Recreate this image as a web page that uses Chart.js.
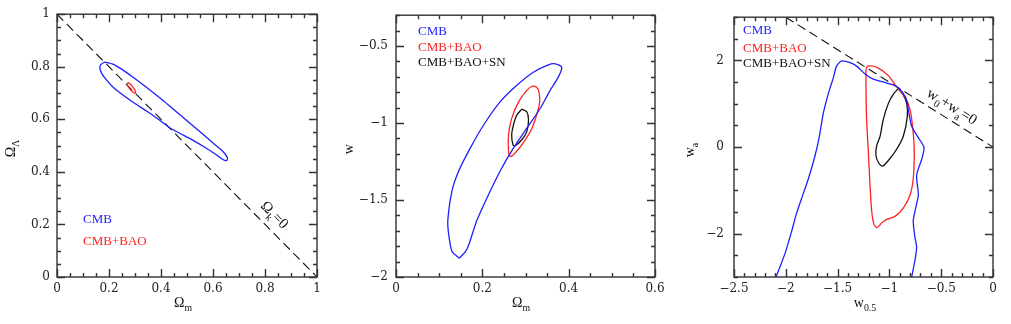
<!DOCTYPE html>
<html>
<head>
<meta charset="utf-8">
<script src="https://cdn.jsdelivr.net/npm/chart.js@4.4.0/dist/chart.umd.min.js"></script>
<style>
html, body { margin: 0; padding: 0; background: #fff; }
#wrap { position: relative; width: 1011px; height: 324px; }
#wrap canvas { position: absolute; top: 0; }
</style>
</head>
<body>
<div id="wrap">
  <canvas id="c1" width="335" height="324" style="left:0"></canvas>
  <canvas id="c2" width="330" height="324" style="left:340px"></canvas>
  <canvas id="c3" width="341" height="324" style="left:670px"></canvas>
</div>
<script>
// ---- panel 1: Omega_m vs Omega_Lambda ----
var p1TicksX = [0, 0.2, 0.4, 0.6, 0.8, 1];
var p1TicksY = [0, 0.2, 0.4, 0.6, 0.8, 1];
var p1CmbX = [0.184, 0.168, 0.165, 0.172, 0.19, 0.22, 0.26, 0.30, 0.35, 0.40, 0.435, 0.47, 0.52, 0.57, 0.61, 0.638, 0.652, 0.656, 0.645, 0.63, 0.60, 0.55, 0.50, 0.45, 0.40, 0.34, 0.29, 0.25, 0.215, 0.184];
var p1CmbY = [0.818, 0.808, 0.795, 0.775, 0.75, 0.718, 0.688, 0.66, 0.628, 0.593, 0.567, 0.548, 0.522, 0.493, 0.467, 0.447, 0.443, 0.452, 0.47, 0.485, 0.51, 0.553, 0.595, 0.636, 0.678, 0.725, 0.762, 0.79, 0.81, 0.818];
var p1BaoX = [0.274, 0.287, 0.299, 0.302, 0.293, 0.280, 0.270, 0.274];
var p1BaoY = [0.740, 0.729, 0.712, 0.700, 0.702, 0.716, 0.731, 0.740];
var p1FlatX = [0, 1];
var p1FlatY = [1, 0];

// ---- panel 2: Omega_m vs w ----
var p2TicksX = [0, 0.2, 0.4, 0.6];
var p2TicksY = [-2, -1.5, -1, -0.5];
var p2CmbX = [0.1465, 0.1296, 0.122, 0.120, 0.1296, 0.145, 0.172, 0.203, 0.241, 0.280, 0.318, 0.353, 0.369, 0.384, 0.376, 0.357, 0.334, 0.303, 0.272, 0.241, 0.211, 0.187, 0.168, 0.160, 0.1465];
var p2CmbY = [-1.878, -1.833, -1.721, -1.635, -1.442, -1.313, -1.163, -1.013, -0.863, -0.755, -0.670, -0.622, -0.616, -0.637, -0.702, -0.788, -0.906, -1.034, -1.163, -1.313, -1.485, -1.635, -1.796, -1.839, -1.878];
var p2BaoX = [0.322, 0.330, 0.333, 0.330, 0.315, 0.2915, 0.272, 0.2645, 0.2607, 0.2607, 0.268, 0.284, 0.303, 0.314, 0.322];
var p2BaoY = [-0.760, -0.785, -0.850, -0.906, -1.034, -1.142, -1.206, -1.217, -1.185, -1.077, -0.970, -0.863, -0.788, -0.763, -0.760];
var p2SnX = [0.2915, 0.303, 0.307, 0.303, 0.2915, 0.276, 0.271, 0.268, 0.272, 0.280, 0.2915];
var p2SnY = [-0.910, -0.927, -0.981, -1.056, -1.109, -1.148, -1.142, -1.077, -1.013, -0.948, -0.910];

// ---- panel 3: w_0.5 vs w_a ----
var p3TicksX = [-2.5, -2, -1.5, -1, -0.5, 0];
var p3TicksY = [-2, 0, 2];
var p3CmbX = [-2.095, -2.008, -1.943, -1.90, -1.847, -1.782, -1.718, -1.676, -1.638, -1.59, -1.54, -1.51, -1.46, -1.38, -1.316, -1.236, -1.155, -1.026, -0.93, -0.87, -0.833, -0.817, -0.785, -0.721, -0.666, -0.688, -0.737, -0.721, -0.753, -0.77, -0.753, -0.737, -0.753, -0.785];
var p3CmbY = [-3.0, -2.46, -1.94, -1.56, -1.18, -0.73, -0.20, 0.25, 0.78, 1.23, 1.61, 1.87, 1.99, 1.95, 1.87, 1.69, 1.57, 1.48, 1.40, 1.25, 1.08, 0.86, 0.48, 0.22, -0.01, -0.28, -0.65, -1.10, -1.48, -1.71, -2.09, -2.31, -2.61, -3.0];
var p3BaoX = [-1.226, -1.21, -1.12, -1.01, -0.93, -0.85, -0.80, -0.77, -0.76, -0.77, -0.80, -0.866, -0.946, -1.026, -1.074, -1.12, -1.149, -1.171, -1.187, -1.203, -1.22, -1.226, -1.226];
var p3BaoY = [1.80, 1.87, 1.84, 1.65, 1.39, 1.16, 0.86, 0.33, -0.12, -0.73, -1.10, -1.41, -1.60, -1.67, -1.75, -1.86, -1.78, -1.48, -0.88, -0.12, 0.63, 1.39, 1.80];
var p3SnX = [-0.914, -0.87, -0.833, -0.827, -0.866, -0.93, -1.01, -1.065, -1.097, -1.13, -1.123, -1.09, -1.06, -1.01, -0.96, -0.914];
var p3SnY = [1.35, 1.22, 1.01, 0.71, 0.25, -0.05, -0.31, -0.44, -0.39, -0.20, 0.03, 0.25, 0.63, 1.01, 1.23, 1.35];
var p3FlatX = [-2, 0];
var p3FlatY = [3, 0];

var BLUE = '#1e1eff', RED = '#ff2020', BLACK = '#111';
var SERIF = '"Liberation Serif", serif';

function pts(xs, ys) {
    return xs.map(function(x, i) { return { x: x, y: ys[i] }; });
}

function fmt(v) {
    return String(v).replace('-', '\u2212');
}

// text with subscripts, parts = [[text, isSub], ...], centred on x, baseline y
function drawRich(ctx, parts, x, y, size) {
    var w = 0;
    parts.forEach(function(p) {
        ctx.font = (p[1] ? size * 0.7 : size) + 'px ' + SERIF;
        w += ctx.measureText(p[0]).width;
    });
    var cx = x - w / 2;
    ctx.textAlign = 'left';
    ctx.textBaseline = 'alphabetic';
    parts.forEach(function(p) {
        ctx.font = (p[1] ? size * 0.7 : size) + 'px ' + SERIF;
        ctx.fillText(p[0], cx, y + (p[1] ? size * 0.3 : 0));
        cx += ctx.measureText(p[0]).width;
    });
}

function isMajor(v, list) {
    return list.some(function(m) { return Math.abs(m - v) < 1e-6; });
}

function framePlugin(cfg) {
    return {
        id: 'frame',
        afterDraw: function(chart) {
            var ctx = chart.ctx, a = chart.chartArea;
            var xs = chart.scales.x, ys = chart.scales.y;
            ctx.save();
            ctx.strokeStyle = '#333';
            ctx.lineWidth = 1.4;
            ctx.strokeRect(a.left, a.top, a.right - a.left, a.bottom - a.top);

            ctx.beginPath();
            var n = Math.round((cfg.xMax - cfg.xMin) / cfg.xMinor);
            for (var i = 0; i <= n; i++) {
                var v = cfg.xMin + i * cfg.xMinor;
                var len = isMajor(v, cfg.ticksX) ? 8 : 4;
                var px = Math.round(xs.getPixelForValue(v)) + 0.5;
                ctx.moveTo(px, a.bottom); ctx.lineTo(px, a.bottom - len);
                ctx.moveTo(px, a.top); ctx.lineTo(px, a.top + len);
            }
            n = Math.round((cfg.yMax - cfg.yMin) / cfg.yMinor);
            for (var j = 0; j <= n; j++) {
                var w = cfg.yMin + j * cfg.yMinor;
                var l2 = isMajor(w, cfg.ticksY) ? 8 : 4;
                var py = Math.round(ys.getPixelForValue(w)) + 0.5;
                ctx.moveTo(a.left, py); ctx.lineTo(a.left + l2, py);
                ctx.moveTo(a.right, py); ctx.lineTo(a.right - l2, py);
            }
            ctx.stroke();

            ctx.fillStyle = '#111';
            // x title
            drawRich(ctx, cfg.xTitle, cfg.xTitleX, 307, 14);
            // y title, rotated
            ctx.save();
            ctx.translate(cfg.yTitleX, (a.top + a.bottom) / 2 + 3);
            ctx.rotate(-Math.PI / 2);
            drawRich(ctx, cfg.yTitle, 0, 5, 14);
            ctx.restore();

            // legend text
            ctx.font = '13px ' + SERIF;
            ctx.textAlign = 'left';
            ctx.textBaseline = 'middle';
            chart.data.datasets.forEach(function(ds, k) {
                if (!ds.label) return;
                ctx.fillStyle = ds.borderColor;
                ctx.fillText(ds.label, a.left + cfg.legendX, cfg.legendY[k]);
            });

            // note along the dashed line, set just above it
            if (cfg.note) {
                var line = chart.data.datasets[chart.data.datasets.length - 1].data;
                var ang = Math.atan2(ys.getPixelForValue(line[1].y) - ys.getPixelForValue(line[0].y),
                                     xs.getPixelForValue(line[1].x) - xs.getPixelForValue(line[0].x));
                var t = (cfg.noteAt - line[0].x) / (line[1].x - line[0].x);
                var ny = line[0].y + t * (line[1].y - line[0].y);
                ctx.save();
                ctx.fillStyle = '#111';
                ctx.translate(xs.getPixelForValue(cfg.noteAt), ys.getPixelForValue(ny));
                ctx.rotate(ang);
                drawRich(ctx, cfg.note, 0, cfg.noteOff, 15);
                ctx.restore();
            }
            ctx.restore();
        }
    };
}

function makeChart(id, cfg) {
    var sets = cfg.sets.map(function(s) {
        return {
            label: s.label,
            data: pts(s.x, s.y),
            showLine: true,
            pointRadius: 0,
            borderColor: s.color,
            borderWidth: s.dash ? 1.1 : 1.3,
            borderDash: s.dash || [],
            tension: s.dash ? 0 : 0.25,
            fill: false
        };
    });
    var tickFont = { family: '"DejaVu Serif", serif', size: 12 };
    return new Chart(document.getElementById(id), {
        type: 'scatter',
        data: { datasets: sets },
        options: {
            responsive: false,
            animation: false,
            layout: { padding: { left: 0, top: 12, right: cfg.padRight, bottom: 0 } },
            plugins: { legend: { display: false }, tooltip: { enabled: false } },
            scales: {
                x: {
                    type: 'linear', min: cfg.xMin, max: cfg.xMax,
                    grid: { display: false, drawTicks: false }, border: { display: false },
                    afterBuildTicks: function(s) { s.ticks = cfg.ticksX.map(function(v) { return { value: v }; }); },
                    afterFit: function(s) { s.height = 47; },
                    ticks: { font: tickFont, color: '#222', padding: 5, autoSkip: false, maxRotation: 0, callback: fmt }
                },
                y: {
                    type: 'linear', min: cfg.yMin, max: cfg.yMax,
                    grid: { display: false, drawTicks: false }, border: { display: false },
                    afterBuildTicks: function(s) { s.ticks = cfg.ticksY.map(function(v) { return { value: v }; }); },
                    afterFit: function(s) { s.width = cfg.yWidth; },
                    ticks: { font: tickFont, color: '#222', padding: cfg.yPad, autoSkip: false, callback: fmt }
                }
            }
        },
        plugins: [framePlugin(cfg)]
    });
}

makeChart('c1', {
    xMin: 0, xMax: 1, yMin: 0, yMax: 1, xMinor: 0.05, yMinor: 0.05,
    ticksX: p1TicksX, ticksY: p1TicksY, yWidth: 57, padRight: 18, yPad: 7,
    xTitle: [['\u03a9', false], ['m', true]], xTitleX: 183,
    yTitle: [['\u03a9', false], ['\u039b', true]], yTitleX: 10,
    legendX: 26, legendY: [220, 242],
    note: [['\u03a9', false], ['k', true], ['=0', false]], noteAt: 0.8, noteOff: -9,
    sets: [
        { label: 'CMB', x: p1CmbX, y: p1CmbY, color: BLUE },
        { label: 'CMB+BAO', x: p1BaoX, y: p1BaoY, color: RED },
        { label: '', x: p1FlatX, y: p1FlatY, color: BLACK, dash: [9, 5] }
    ]
});

makeChart('c2', {
    xMin: 0, xMax: 0.6, yMin: -2, yMax: -0.3, xMinor: 0.05, yMinor: 0.1,
    ticksX: p2TicksX, ticksY: p2TicksY, yWidth: 56, padRight: 15, yPad: 8,
    xTitle: [['\u03a9', false], ['m', true]], xTitleX: 181,
    yTitle: [['w', false]], yTitleX: 8,
    legendX: 22, legendY: [32, 48, 63],
    sets: [
        { label: 'CMB', x: p2CmbX, y: p2CmbY, color: BLUE },
        { label: 'CMB+BAO', x: p2BaoX, y: p2BaoY, color: RED },
        { label: 'CMB+BAO+SN', x: p2SnX, y: p2SnY, color: BLACK }
    ]
});

makeChart('c3', {
    xMin: -2.5, xMax: 0, yMin: -3, yMax: 3, xMinor: 0.1, yMinor: 0.5,
    ticksX: p3TicksX, ticksY: p3TicksY, yWidth: 64, padRight: 18, yPad: 10,
    xTitle: [['w', false], ['0.5', true]], xTitleX: 195,
    yTitle: [['w', false], ['a', true]], yTitleX: 19,
    legendX: 9, legendY: [31, 49, 64],
    note: [['w', false], ['0', true], ['+w', false], ['a', true], ['=0', false]], noteAt: -0.46, noteOff: -8,
    sets: [
        { label: 'CMB', x: p3CmbX, y: p3CmbY, color: BLUE },
        { label: 'CMB+BAO', x: p3BaoX, y: p3BaoY, color: RED },
        { label: 'CMB+BAO+SN', x: p3SnX, y: p3SnY, color: BLACK },
        { label: '', x: p3FlatX, y: p3FlatY, color: BLACK, dash: [9, 5] }
    ]
});
</script>
</body>
</html>
